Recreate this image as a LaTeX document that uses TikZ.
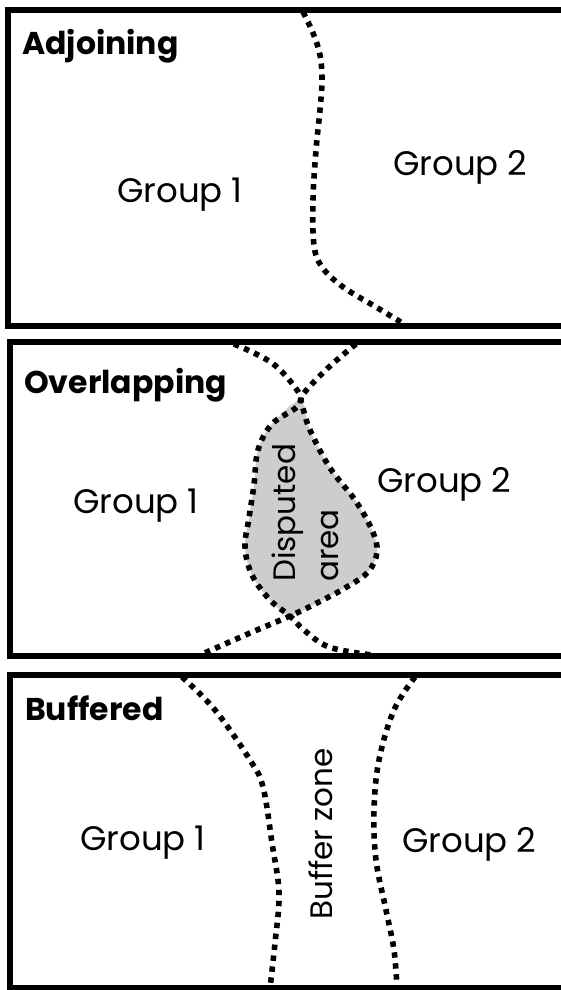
\documentclass[tikz,border=0pt]{standalone}
\usepackage{fontspec}
\setmainfont{Poppins}
\definecolor{dispgray}{RGB}{205,205,205}
\begin{document}
\begin{tikzpicture}[x=1pt,y=-1pt,
  frame/.style={line width=6pt},
  bound/.style={line width=5.6pt, dash pattern=on 5.4pt off 5.6pt},
  lbl/.style={font=\fontsize{34}{43}\selectfont, inner sep=0pt, anchor=base west},
  vlbl/.style={font=\fontsize{31}{40}\selectfont, inner sep=0pt, anchor=base west, rotate=90},
  ttl/.style={font=\fontsize{31.5}{38}\selectfont\bfseries, inner sep=0pt, anchor=base west}]
\useasboundingbox (0,0) rectangle (561,990);
\clip (0,0) rectangle (561,990);

% ---------- Panel 1: Adjoining ----------
\draw[frame] (600,10) -- (8,10) -- (8,326) -- (600,326);
\draw[bound] plot[smooth,tension=0.6] coordinates {(303,12) (313,33) (320,55) (322,80) (320,110) (316,150) (313,200) (314,245) (322,267) (343,287) (376,307) (404,324)};
\node[ttl] (t1) at (22,55) {Adjoining};
\node[lbl] (g11) at (117,202) {Group 1};
\node[lbl] (g12) at (393,175) {Group 2};

% ---------- Panel 2: Overlapping ----------
\fill[dispgray] plot[smooth cycle,tension=0.6] coordinates {(300,401) (310,430) (330,468) (355,500) (372,530) (377,552) (368,572) (345,588) (315,604) (290,615) (270,600) (252,575) (245,547) (249,518) (254,485) (258,450) (272,424)};
\draw[frame] (600,342) -- (10,342) -- (10,656) -- (600,656);
\draw[bound] plot[smooth,tension=0.6] coordinates {(234,344) (272,363) (297,390) (302,405) (310,430) (330,468) (355,500) (372,530) (377,552) (368,572) (345,588) (315,604) (290,616) (250,633) (200,655)};
\draw[bound] plot[smooth,tension=0.6] coordinates {(356,344) (329,367) (304,393) (297,407) (272,424) (258,450) (254,485) (249,518) (245,547) (252,575) (270,600) (290,616) (304,630) (329,647) (372,655)};
\node[ttl] (t2) at (24,393) {Overlapping};
\node[lbl] (g21) at (73,513) {Group 1};
\node[lbl] (g22) at (377,492) {Group 2};
\node[vlbl] (d1) at (295,582) {Disputed};
\node[vlbl] (d2) at (338,582) {area};

% ---------- Panel 3: Buffered ----------
\draw[frame] (600,674.5) -- (10,674.5) -- (10,988) -- (600,988);
\draw[bound] plot[smooth,tension=0.6] coordinates {(182,677) (215,710) (250,760) (263,787) (272,843) (279,893) (275,943) (270,988)};
\draw[bound] plot[smooth,tension=0.6] coordinates {(415,677) (394,710) (379,760) (374,810) (376,860) (386,910) (394,950) (397,988)};
\node[ttl] (t3) at (25,720) {Buffered};
\node[lbl] (g31) at (80,850) {Group 1};
\node[lbl] (g32) at (402,852) {Group 2};
\node[vlbl] (bz) at (332,920) {Buffer zone};
\end{tikzpicture}
\end{document}
